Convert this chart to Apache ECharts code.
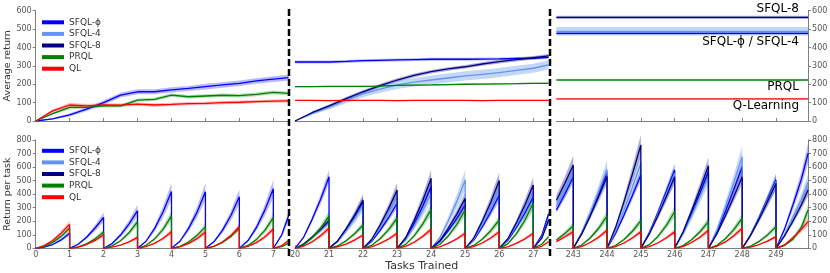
<!DOCTYPE html>
<html><head><meta charset="utf-8">
<script src="https://cdn.jsdelivr.net/npm/echarts@6/dist/echarts.min.js"></script>
<style>html,body{margin:0;padding:0;background:#fff}#c{width:830px;height:273px}</style>
</head><body><div id="c"></div>
<script>
// ---------- names & ticks ----------
const names = ['SFQL-ϕ','SFQL-4','SFQL-8','PRQL','QL'];
const ticksL = [0,1,2,3,4,5,6,7];
const ticksM = [20,21,22,23,24,25,26,27];
const ticksR = [243,244,245,246,247,248,249];

// ---------- top row: average return ----------
const tlX = [0,0.5,1,1.5,2,2.5,3,3.5,4,4.5,5,5.5,6,6.5,7,7.45];
const tlPhi   = [0,12,33,65,100,141,159,159,169,177,187,196,205,218,228,236];
const tlPhiSd = [0,4,8,10,12,13,14,14,14,14,15,15,15,15,16,16];
const tlPrql   = [0,40,74,74,82,82,114,118,141,132,136,140,138,145,156,150];
const tlPrqlSd = [0,6,10,8,8,8,9,9,10,10,10,10,10,10,10,10];
const tlQl   = [0,55,87,82,87,86,92,87,90,94,96,100,102,105,108,110];
const tlQlSd = [0,8,12,10,9,9,9,9,9,9,9,9,9,9,9,9];

const tmX = [20,20.5,21,21.5,22,22.5,23,23.5,24,24.5,25,25.5,26,26.5,27,27.45];
const tmPhi   = [321,321,321,324,328,330,332,334,336,336,336,337,338,340,341,346];
const tmPhiSd = [8,8,8,8,8,8,8,8,8,8,8,8,8,8,8,8];
const tm4   = [0,40,74,112,147,174,196,211,223,234,245,254,263,275,287,305];
const tm4Sd = [0,8,12,15,18,20,22,23,24,25,25,25,25,25,25,25];
const tm8   = [0,45,82,122,159,193,223,248,268,283,295,310,323,334,344,354];
const tm8Sd = [0,6,8,9,10,10,10,10,10,10,10,10,10,10,10,10];
const tmPrql   = [187,187,188,188,188,190,194,195,196,198,200,201,202,203,205,205];
const tmPrqlSd = [4,4,4,4,4,4,4,4,4,4,4,4,4,4,4,4];
const tmQl   = [112,112,111,112,112,112,111,112,112,112,112,111,112,112,112,112];
const tmQlSd = [3,3,3,3,3,3,3,3,3,3,3,3,3,3,3,3];

const trX = [242.5,249.95];
const trPhi = [477,477],  trPhiSd = [6,6];
const tr4   = [488,488],  tr4Sd   = [23,23];
const tr8   = [564,564],  tr8Sd   = [9,9];
const trPrql = [223,223], trPrqlSd = [3,3];
const trQl   = [120,120], trQlSd   = [3,3];

// ---------- bottom row: return per task (one inner list per task) ----------
const blStarts = [0,1,2,3,4,5,6];
const blLast = [7,7.25,7.45];
const blPhi = [[0,8,28,62,111],[0,30,82,150,229],[0,35,98,180,278],[0,52,145,268,420],[0,52,145,265,418],[0,48,132,242,381],[0,55,152,282,440],[0,100,240]];
const blPhiSd = [[0,2,5,10,17],[0,5,12,22,35],[0,6,15,27,42],[0,8,22,40,62],[0,8,22,40,62],[0,7,20,36,56],[0,8,23,42,64],[0,15,35]];
const blPrql = [[0,14,44,88,148],[0,10,33,70,120],[0,18,56,115,197],[0,22,68,140,239],[0,15,46,94,160],[0,14,43,88,150],[0,21,64,132,226],[0,12,38]];
const blPrqlSd = [[0,2,7,13,22],[0,2,5,10,18],[0,3,8,17,30],[0,3,10,21,36],[0,2,7,14,24],[0,2,6,13,22],[0,3,10,20,34],[0,2,6]];
const blQl = [[0,20,58,112,177],[0,9,28,58,100],[0,8,24,48,81],[0,12,36,72,123],[0,11,35,71,120],[0,15,46,94,160],[0,14,42,84,143],[0,20,58]];
const blQlSd = [[0,3,9,17,27],[0,1,4,9,15],[0,1,4,7,12],[0,2,5,11,18],[0,2,5,11,18],[0,2,7,14,24],[0,2,6,13,21],[0,3,9]];

const bmStarts = [20,21,22,23,24,25,26];
const bmLast = [27,27.25,27.45];
const bmPhi = [[0,80,212,360,529],[0,51,136,231,340],[0,50,133,226,333],[0,68,182,309,455],[0,48,128,218,320],[0,59,158,268,394],[0,57,152,259,381],[0,95,255]];
const bmPhiSd = [[0,8,20,34,50],[0,6,15,26,38],[0,6,15,25,37],[0,8,20,34,50],[0,6,14,24,36],[0,7,17,30,44],[0,6,17,29,42],[0,10,25]];
const bm4 = [[0,30,80,136,200],[0,48,129,219,322],[0,57,153,260,382],[0,61,162,276,406],[0,76,202,343,505],[0,65,172,293,431],[0,63,167,284,418],[0,80,220]];
const bm4Sd = [[0,5,12,20,30],[0,7,19,33,48],[0,9,23,39,57],[0,9,24,41,61],[0,11,30,51,76],[0,10,26,44,65],[0,9,25,43,63],[0,12,33]];
const bm8 = [[0,31,82,139,204],[0,54,143,243,357],[0,65,172,293,431],[0,78,207,352,517],[0,55,148,251,369],[0,75,200,340,500],[0,70,187,318,468],[0,75,209]];
const bm8Sd = [[0,4,10,17,25],[0,6,17,29,43],[0,8,21,35,52],[0,9,25,42,62],[0,7,18,30,44],[0,9,24,41,60],[0,8,22,38,56],[0,9,25]];
const bmPrql = [[0,24,76,148,239],[0,17,55,107,172],[0,22,71,138,222],[0,29,92,179,288],[0,28,91,175,283],[0,21,67,130,209],[0,33,107,206,333],[0,30,86]];
const bmPrqlSd = [[0,4,11,22,36],[0,3,8,16,26],[0,3,11,21,33],[0,4,14,27,43],[0,4,14,26,42],[0,3,10,20,31],[0,5,16,31,50],[0,4,13]];
const bmQl = [[0,15,47,92,148],[0,10,31,61,98],[0,11,36,69,111],[0,14,45,87,140],[0,11,36,69,111],[0,12,39,76,123],[0,11,36,69,111],[0,15,49]];
const bmQlSd = [[0,2,7,14,22],[0,2,5,9,15],[0,2,5,10,17],[0,2,7,13,21],[0,2,5,10,17],[0,2,6,11,18],[0,2,5,10,17],[0,2,7]];

const brFirst = [242.5,242.75,243];
const brStarts = [243,244,245,246,247,248];
const brLast = [249,249.25,249.5,249.75,249.95];
const brPhi = [[283,400,529],[0,112,252,403,560],[0,108,244,390,542],[0,116,261,417,579],[0,113,255,408,566],[0,120,271,434,603],[0,101,227,364,505],[0,140,320,510,702]];
const brPhiSd = [[22,32,42],[0,9,20,32,45],[0,9,20,31,43],[0,9,21,33,46],[0,9,20,33,45],[0,10,22,35,48],[0,8,18,29,40],[0,15,35,55,73]];
const br4 = [[306,430,555],[0,116,261,418,580],[0,126,283,452,628],[0,111,250,400,555],[0,106,239,382,530],[0,135,305,487,677],[0,99,222,355,493],[0,100,230,360,490]];
const br4Sd = [[37,52,67],[0,14,31,50,70],[0,15,34,54,75],[0,13,30,48,67],[0,13,29,46,64],[0,16,37,58,81],[0,12,27,43,59],[0,12,28,43,59]];
const br8 = [[355,480,616],[0,106,239,382,530],[0,153,343,549,763],[0,106,238,381,529],[0,122,275,439,610],[0,106,238,381,529],[0,96,216,346,480],[0,90,200,320,430]];
const br8Sd = [[36,50,65],[0,11,24,38,53],[0,15,34,55,76],[0,11,24,38,53],[0,12,28,44,61],[0,11,24,38,53],[0,10,22,35,48],[0,9,20,32,43]];
const brPrql = [[61,110,167],[0,24,76,148,239],[0,20,65,126,204],[0,27,86,167,270],[0,20,63,122,197],[0,22,71,138,222],[0,16,51,99,160],[0,20,65,155,283]];
const brPrqlSd = [[9,16,25],[0,4,11,22,36],[0,3,10,19,31],[0,4,13,25,40],[0,3,9,18,30],[0,3,11,21,33],[0,2,8,15,24],[0,3,10,23,42]];
const brQl = [[49,85,123],[0,13,43,82,133],[0,12,39,76,123],[0,12,39,76,123],[0,13,43,82,133],[0,15,47,92,148],[0,9,28,53,86],[0,25,78,140,197]];
const brQlSd = [[7,13,18],[0,2,6,12,20],[0,2,6,11,18],[0,2,6,11,18],[0,2,6,12,20],[0,2,7,14,22],[0,1,4,8,13],[0,4,12,21,30]];

// ---------- build ----------
const FONT = 'DejaVu Sans';
const col = {'SFQL-ϕ':'#0000ff','SFQL-4':'#6495ed','SFQL-8':'#000080','PRQL':'#008000','QL':'#ff0000'};
const bandCol = {'SFQL-ϕ':'rgba(0,0,255,0.28)','SFQL-4':'rgba(100,149,237,0.38)','SFQL-8':'rgba(0,0,128,0.32)','PRQL':'rgba(0,128,0,0.28)','QL':'rgba(255,0,0,0.28)'};
const taskSamples = k => [k, k+0.25, k+0.5, k+0.75, k+1];

const blSegs = blStarts.map(taskSamples).concat([blLast]);
const bmSegs = bmStarts.map(taskSamples).concat([bmLast]);
const brSegs = [brFirst].concat(brStarts.map(taskSamples)).concat([brLast]);

const panels = [
  {g:0, segs:[tlX], s:[['SFQL-ϕ',[tlPhi],[tlPhiSd]],['PRQL',[tlPrql],[tlPrqlSd]],['QL',[tlQl],[tlQlSd]]]},
  {g:1, segs:[tmX], s:[['SFQL-ϕ',[tmPhi],[tmPhiSd]],['SFQL-4',[tm4],[tm4Sd]],['SFQL-8',[tm8],[tm8Sd]],['PRQL',[tmPrql],[tmPrqlSd]],['QL',[tmQl],[tmQlSd]]]},
  {g:2, segs:[trX], s:[['SFQL-4',[tr4],[tr4Sd]],['SFQL-ϕ',[trPhi],[trPhiSd]],['SFQL-8',[tr8],[tr8Sd]],['PRQL',[trPrql],[trPrqlSd]],['QL',[trQl],[trQlSd]]]},
  {g:3, segs:blSegs, s:[['SFQL-ϕ',blPhi,blPhiSd],['PRQL',blPrql,blPrqlSd],['QL',blQl,blQlSd]]},
  {g:4, segs:bmSegs, s:[['SFQL-ϕ',bmPhi,bmPhiSd],['SFQL-4',bm4,bm4Sd],['SFQL-8',bm8,bm8Sd],['PRQL',bmPrql,bmPrqlSd],['QL',bmQl,bmQlSd]]},
  {g:5, segs:brSegs, s:[['SFQL-ϕ',brPhi,brPhiSd],['SFQL-4',br4,br4Sd],['SFQL-8',br8,br8Sd],['PRQL',brPrql,brPrqlSd],['QL',brQl,brQlSd]]}
];

const series = [];
panels.forEach(p => {
  p.s.forEach(([name, vals, sds]) => {
    series.push({
      type:'custom', name: name + ' band', xAxisIndex:p.g, yAxisIndex:p.g, silent:true, z:1, animation:false,
      data: p.segs.map(s => [s[0], 0]),
      renderItem: (params, api) => {
        const i = params.dataIndex, xs = p.segs[i], v = vals[i], sd = sds[i];
        const pts = [];
        for (let j = 0; j < xs.length; j++) pts.push(api.coord([xs[j], v[j] + sd[j]]));
        for (let j = xs.length - 1; j >= 0; j--) pts.push(api.coord([xs[j], Math.max(0, v[j] - sd[j])]));
        return {type:'polygon', shape:{points:pts}, style:{fill:bandCol[name]}};
      }
    });
  });
  p.s.forEach(([name, vals]) => {
    const data = [];
    p.segs.forEach((xs, i) => xs.forEach((x, j) => data.push([x, vals[i][j]])));
    series.push({type:'line', name, xAxisIndex:p.g, yAxisIndex:p.g, data, showSymbol:false, symbol:'none',
      color: col[name], lineStyle:{width:1.3, color:col[name]}, z:2, animation:false, silent:true});
  });
});

const axisGrey = '#808080';
const lbl = {fontSize:8, color:'#555', fontFamily:FONT};
function xAx(g, min, max, ticks, showLabel, extra) {
  return Object.assign({type:'value', gridIndex:g, min, max,
    axisLine:{show:true, onZero:false, lineStyle:{color:axisGrey, width:1}},
    axisTick:{show:true, inside:true, length:3, customValues:ticks, lineStyle:{color:axisGrey}},
    axisLabel:Object.assign({show:showLabel, customValues:ticks, margin:3}, lbl),
    splitLine:{show:false}}, extra || {});
}
function yAx(g, max, show, pos, extra) {
  return Object.assign({type:'value', gridIndex:g, min:0, max, interval:100, show, position:pos,
    axisLine:{show:true, lineStyle:{color:axisGrey, width:1}},
    axisTick:{show:true, inside:false, length:3, lineStyle:{color:axisGrey}},
    axisLabel:Object.assign({margin:4}, lbl),
    splitLine:{show:false}}, extra || {});
}
const yName = txt => ({name:txt, nameLocation:'middle', nameGap:22, nameRotate:90,
  nameTextStyle:{fontSize:9.5, color:'#333', fontFamily:FONT}});

const legendBase = {orient:'vertical', left:42, itemWidth:22, itemHeight:4, itemGap:0, icon:'rect',
  padding:0, selectedMode:false, data:names,
  textStyle:{fontSize:9, color:'#333', fontFamily:FONT, lineHeight:11.6}};

const txtStyle = t => ({text:t, fontSize:12, fontFamily:FONT, fill:'#000'});

const option = {
  animation:false,
  textStyle:{fontFamily:FONT},
  grid:[
    {left:35.7, top:10.7, width:252.9, height:110.3, outerBoundsMode:'none'},
    {left:295, top:10.7, width:253.6, height:110.3, outerBoundsMode:'none'},
    {left:556.4, top:10.7, width:251.7, height:110.3, outerBoundsMode:'none'},
    {left:35.7, top:140, width:252.9, height:108.3, outerBoundsMode:'none'},
    {left:295, top:140, width:253.6, height:108.3, outerBoundsMode:'none'},
    {left:556.4, top:140, width:251.7, height:108.3, outerBoundsMode:'none'}
  ],
  xAxis:[
    xAx(0, 0, 7.45, ticksL.slice(1), false),
    xAx(1, 20, 27.45, ticksM.slice(1), false),
    xAx(2, 242.5, 249.95, ticksR, false),
    xAx(3, 0, 7.45, ticksL, true),
    xAx(4, 20, 27.45, ticksM, true, {name:'Tasks Trained', nameLocation:'middle', nameGap:11,
      nameTextStyle:{fontSize:11, color:'#333', fontFamily:FONT}}),
    xAx(5, 242.5, 249.95, ticksR, true)
  ],
  yAxis:[
    yAx(0, 600, true, 'left', yName('Average return')),
    yAx(1, 600, false, 'left'),
    yAx(2, 600, true, 'right'),
    yAx(3, 800, true, 'left', yName('Return per task')),
    yAx(4, 800, false, 'left'),
    yAx(5, 800, true, 'right')
  ],
  legend:[
    Object.assign({top:16.5}, legendBase),
    Object.assign({top:145}, legendBase)
  ],
  series,
  graphic:[
    {type:'line', z:100, shape:{x1:289, y1:9, x2:289, y2:257}, style:{stroke:'#000', lineWidth:2.5, lineDash:[7,3]}},
    {type:'line', z:100, shape:{x1:550, y1:9, x2:550, y2:257}, style:{stroke:'#000', lineWidth:2.5, lineDash:[7,3]}},
    {type:'text', right:31, top:2.5, style:txtStyle('SFQL-8')},
    {type:'text', right:31, top:36, style:txtStyle('SFQL-ϕ / SFQL-4')},
    {type:'text', right:31, top:81, style:txtStyle('PRQL')},
    {type:'text', right:31, top:99.5, style:txtStyle('Q-Learning')}
  ]
};
const chart = echarts.init(document.getElementById('c'), null, {renderer:'canvas'});
chart.setOption(option);
</script>
</body></html>
